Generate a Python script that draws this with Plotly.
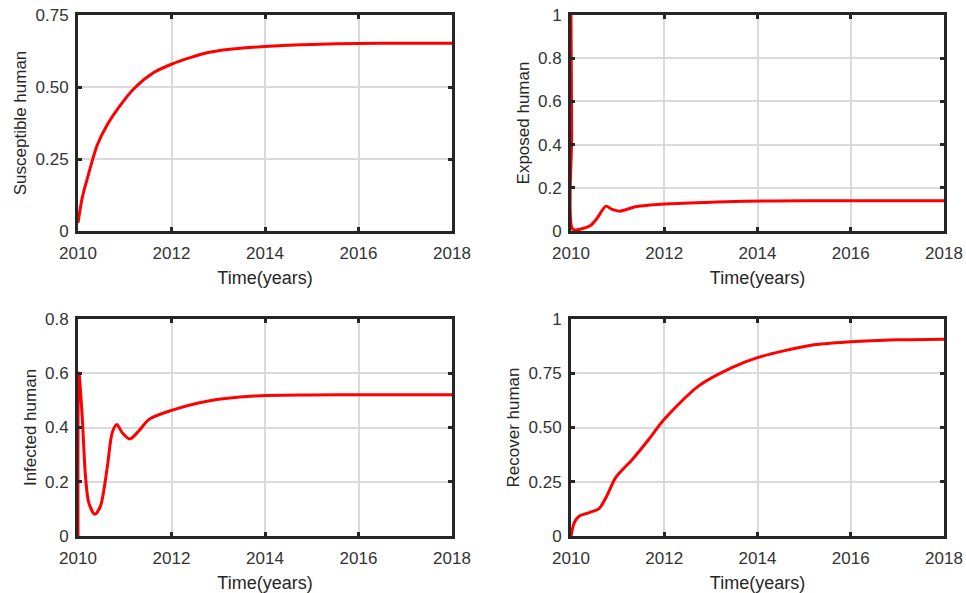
import plotly.graph_objects as go

# Susceptible human
t_s = [2010.0, 2010.09, 2010.2, 2010.41, 2010.62, 2010.9, 2011.19, 2011.62, 2012.0, 2012.4, 2012.76, 2013.2, 2013.74, 2014.5, 2015.0, 2016.0, 2017.0, 2018.0]
s_h = [0.029, 0.115, 0.183, 0.298, 0.367, 0.435, 0.493, 0.55, 0.579, 0.602, 0.619, 0.63, 0.638, 0.645, 0.648, 0.651, 0.652, 0.652]

# Exposed human
t_e = [2010.0, 2010.015, 2010.04, 2010.23, 2010.41, 2010.55, 2010.75, 2010.88, 2011.05, 2011.38, 2011.7, 2012.0, 2013.0, 2013.74, 2015.0, 2016.0, 2018.0]
e_h = [1.0, 0.45, 0.008, 0.01, 0.024, 0.056, 0.115, 0.1, 0.092, 0.112, 0.12, 0.125, 0.133, 0.138, 0.14, 0.14, 0.14]

# Infected human
t_i = [2010.0, 2010.02, 2010.09, 2010.16, 2010.23, 2010.36, 2010.48, 2010.63, 2010.73, 2010.83, 2010.95, 2011.11, 2011.3, 2011.52, 2012.0, 2012.76, 2013.76, 2015.0, 2016.0, 2018.0]
i_h = [0.0, 0.601, 0.44, 0.22, 0.123, 0.08, 0.11, 0.258, 0.38, 0.411, 0.38, 0.358, 0.387, 0.43, 0.463, 0.497, 0.516, 0.52, 0.521, 0.521]

# Recover human
t_r = [2010.0, 2010.07, 2010.18, 2010.39, 2010.6, 2010.78, 2010.96, 2011.32, 2011.67, 2012.0, 2012.74, 2013.45, 2014.0, 2015.15, 2016.0, 2017.0, 2018.0]
r_h = [0.0, 0.061, 0.092, 0.108, 0.126, 0.19, 0.27, 0.354, 0.446, 0.538, 0.692, 0.776, 0.822, 0.879, 0.895, 0.904, 0.907]

x_ticks = [2010, 2012, 2014, 2016, 2018]

panels = [
    (t_s, s_h, "Susceptible human", [0, 0.75], [0, 0.25, 0.5, 0.75], ["0", "0.25", "0.50", "0.75"]),
    (t_e, e_h, "Exposed human", [0, 1], [0, 0.2, 0.4, 0.6, 0.8, 1], ["0", "0.2", "0.4", "0.6", "0.8", "1"]),
    (t_i, i_h, "Infected human", [0, 0.8], [0, 0.2, 0.4, 0.6, 0.8], ["0", "0.2", "0.4", "0.6", "0.8"]),
    (t_r, r_h, "Recover human", [0, 1], [0, 0.25, 0.5, 0.75, 1], ["0", "0.25", "0.50", "0.75", "1"]),
]

W, H = 966, 593


def xd(a, b):
    return [a / W, b / W]


def yd(top, bot):
    return [1 - bot / H, 1 - top / H]


xdoms = [xd(78, 452), xd(571, 944)]
ydoms = [yd(15, 231), yd(319, 536)]

FAM = "Liberation Sans, Arial, sans-serif"
tickfont = dict(family=FAM, size=17, color="#333333")
xtitlefont = dict(family=FAM, size=18, color="#262626")
ytitlefont = dict(family=FAM, size=17, color="#262626")

fig = go.Figure()
for k, (tx, vy, title, yr, yt, ytl) in enumerate(panels):
    row, col = divmod(k, 2)
    n = "" if k == 0 else str(k + 1)
    fig.add_trace(go.Scatter(x=tx, y=vy, mode="lines",
                             line=dict(color="#ff0000", width=3, shape="spline", smoothing=0.8),
                             xaxis="x" + n, yaxis="y" + n, showlegend=False))
    common = dict(showline=True, linecolor="#262626", linewidth=3, mirror="ticks",
                  ticks="inside", ticklen=4, tickwidth=2.5, tickcolor="#262626",
                  showgrid=True, gridcolor="#dadada", gridwidth=2, zeroline=False,
                  tickfont=tickfont, automargin=False, ticklabeloverflow="allow")
    fig.update_layout(**{
        "xaxis" + n: dict(domain=xdoms[col], range=[2010, 2018], tickvals=x_ticks,
                          ticklabelstandoff=5,
                          title=dict(text="Time(years)", font=xtitlefont, standoff=9),
                          anchor="y" + n, **common),
        "yaxis" + n: dict(domain=ydoms[row], range=yr, tickvals=yt, ticktext=ytl,
                          ticklabelstandoff=3,
                          title=dict(text=title, font=ytitlefont, standoff=5),
                          anchor="x" + n, **common),
    })

fig.update_layout(width=W, height=H, margin=dict(l=0, r=0, t=0, b=0),
                  plot_bgcolor="white", paper_bgcolor="white", hovermode=False)
fig.write_html("out.html", config={"displayModeBar": False},
               post_script="document.body.style.margin='0';document.body.style.overflow='hidden';")
